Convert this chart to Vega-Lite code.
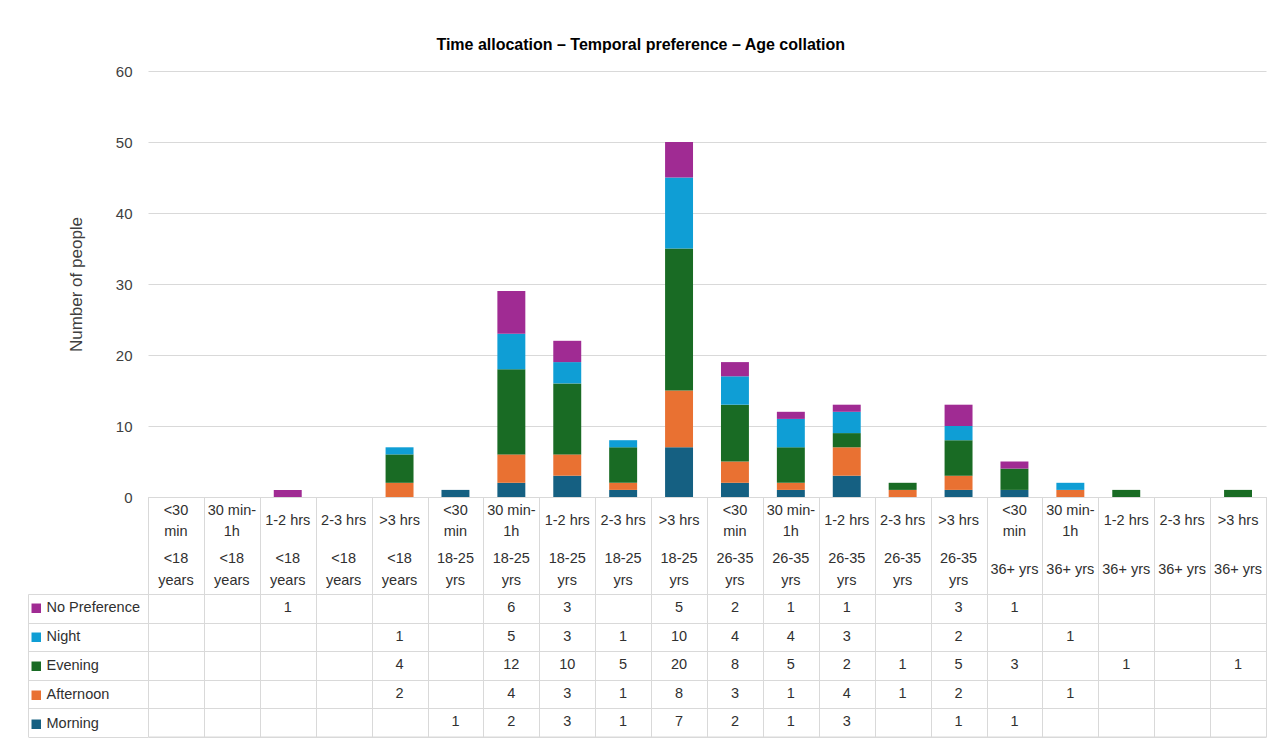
{
  "$schema": "https://vega.github.io/schema/vega-lite/v6.json",
  "padding": {"left": 27, "top": 37, "right": 19, "bottom": 12},
  "background": "white",
  "bounds": "flush",
  "spacing": 0,
  "config": {
    "font": "Liberation Sans",
    "view": {"stroke": "#d9d9d9"},
    "axis": {"gridColor": "#d9d9d9", "gridWidth": 1}
  },
  "title": {"text": "Time allocation – Temporal preference – Age collation", "fontSize": 16, "fontWeight": "bold", "color": "#000000", "anchor": "middle", "offset": 11, "dx": -6},
  "datasets": {
    "vals": [
      {"c": "1-2 hrs, <18 years", "s": "No Preference", "v": 1},
      {"c": ">3 hrs, <18 years", "s": "Afternoon", "v": 2},
      {"c": ">3 hrs, <18 years", "s": "Evening", "v": 4},
      {"c": ">3 hrs, <18 years", "s": "Night", "v": 1},
      {"c": "<30 min, 18-25 yrs", "s": "Morning", "v": 1},
      {"c": "30 min-1h, 18-25 yrs", "s": "Morning", "v": 2},
      {"c": "30 min-1h, 18-25 yrs", "s": "Afternoon", "v": 4},
      {"c": "30 min-1h, 18-25 yrs", "s": "Evening", "v": 12},
      {"c": "30 min-1h, 18-25 yrs", "s": "Night", "v": 5},
      {"c": "30 min-1h, 18-25 yrs", "s": "No Preference", "v": 6},
      {"c": "1-2 hrs, 18-25 yrs", "s": "Morning", "v": 3},
      {"c": "1-2 hrs, 18-25 yrs", "s": "Afternoon", "v": 3},
      {"c": "1-2 hrs, 18-25 yrs", "s": "Evening", "v": 10},
      {"c": "1-2 hrs, 18-25 yrs", "s": "Night", "v": 3},
      {"c": "1-2 hrs, 18-25 yrs", "s": "No Preference", "v": 3},
      {"c": "2-3 hrs, 18-25 yrs", "s": "Morning", "v": 1},
      {"c": "2-3 hrs, 18-25 yrs", "s": "Afternoon", "v": 1},
      {"c": "2-3 hrs, 18-25 yrs", "s": "Evening", "v": 5},
      {"c": "2-3 hrs, 18-25 yrs", "s": "Night", "v": 1},
      {"c": ">3 hrs, 18-25 yrs", "s": "Morning", "v": 7},
      {"c": ">3 hrs, 18-25 yrs", "s": "Afternoon", "v": 8},
      {"c": ">3 hrs, 18-25 yrs", "s": "Evening", "v": 20},
      {"c": ">3 hrs, 18-25 yrs", "s": "Night", "v": 10},
      {"c": ">3 hrs, 18-25 yrs", "s": "No Preference", "v": 5},
      {"c": "<30 min, 26-35 yrs", "s": "Morning", "v": 2},
      {"c": "<30 min, 26-35 yrs", "s": "Afternoon", "v": 3},
      {"c": "<30 min, 26-35 yrs", "s": "Evening", "v": 8},
      {"c": "<30 min, 26-35 yrs", "s": "Night", "v": 4},
      {"c": "<30 min, 26-35 yrs", "s": "No Preference", "v": 2},
      {"c": "30 min-1h, 26-35 yrs", "s": "Morning", "v": 1},
      {"c": "30 min-1h, 26-35 yrs", "s": "Afternoon", "v": 1},
      {"c": "30 min-1h, 26-35 yrs", "s": "Evening", "v": 5},
      {"c": "30 min-1h, 26-35 yrs", "s": "Night", "v": 4},
      {"c": "30 min-1h, 26-35 yrs", "s": "No Preference", "v": 1},
      {"c": "1-2 hrs, 26-35 yrs", "s": "Morning", "v": 3},
      {"c": "1-2 hrs, 26-35 yrs", "s": "Afternoon", "v": 4},
      {"c": "1-2 hrs, 26-35 yrs", "s": "Evening", "v": 2},
      {"c": "1-2 hrs, 26-35 yrs", "s": "Night", "v": 3},
      {"c": "1-2 hrs, 26-35 yrs", "s": "No Preference", "v": 1},
      {"c": "2-3 hrs, 26-35 yrs", "s": "Afternoon", "v": 1},
      {"c": "2-3 hrs, 26-35 yrs", "s": "Evening", "v": 1},
      {"c": ">3 hrs, 26-35 yrs", "s": "Morning", "v": 1},
      {"c": ">3 hrs, 26-35 yrs", "s": "Afternoon", "v": 2},
      {"c": ">3 hrs, 26-35 yrs", "s": "Evening", "v": 5},
      {"c": ">3 hrs, 26-35 yrs", "s": "Night", "v": 2},
      {"c": ">3 hrs, 26-35 yrs", "s": "No Preference", "v": 3},
      {"c": "<30 min, 36+ yrs", "s": "Morning", "v": 1},
      {"c": "<30 min, 36+ yrs", "s": "Evening", "v": 3},
      {"c": "<30 min, 36+ yrs", "s": "No Preference", "v": 1},
      {"c": "30 min-1h, 36+ yrs", "s": "Afternoon", "v": 1},
      {"c": "30 min-1h, 36+ yrs", "s": "Night", "v": 1},
      {"c": "1-2 hrs, 36+ yrs", "s": "Evening", "v": 1},
      {"c": ">3 hrs, 36+ yrs", "s": "Evening", "v": 1}
    ],
    "cats": [
      {"c": "<30 min, <18 years", "t": "<30\nmin", "a": "<18\nyears"},
      {"c": "30 min-1h, <18 years", "t": "30 min-\n1h", "a": "<18\nyears"},
      {"c": "1-2 hrs, <18 years", "t": "1-2 hrs", "a": "<18\nyears"},
      {"c": "2-3 hrs, <18 years", "t": "2-3 hrs", "a": "<18\nyears"},
      {"c": ">3 hrs, <18 years", "t": ">3 hrs", "a": "<18\nyears"},
      {"c": "<30 min, 18-25 yrs", "t": "<30\nmin", "a": "18-25\nyrs"},
      {"c": "30 min-1h, 18-25 yrs", "t": "30 min-\n1h", "a": "18-25\nyrs"},
      {"c": "1-2 hrs, 18-25 yrs", "t": "1-2 hrs", "a": "18-25\nyrs"},
      {"c": "2-3 hrs, 18-25 yrs", "t": "2-3 hrs", "a": "18-25\nyrs"},
      {"c": ">3 hrs, 18-25 yrs", "t": ">3 hrs", "a": "18-25\nyrs"},
      {"c": "<30 min, 26-35 yrs", "t": "<30\nmin", "a": "26-35\nyrs"},
      {"c": "30 min-1h, 26-35 yrs", "t": "30 min-\n1h", "a": "26-35\nyrs"},
      {"c": "1-2 hrs, 26-35 yrs", "t": "1-2 hrs", "a": "26-35\nyrs"},
      {"c": "2-3 hrs, 26-35 yrs", "t": "2-3 hrs", "a": "26-35\nyrs"},
      {"c": ">3 hrs, 26-35 yrs", "t": ">3 hrs", "a": "26-35\nyrs"},
      {"c": "<30 min, 36+ yrs", "t": "<30\nmin", "a": "36+ yrs"},
      {"c": "30 min-1h, 36+ yrs", "t": "30 min-\n1h", "a": "36+ yrs"},
      {"c": "1-2 hrs, 36+ yrs", "t": "1-2 hrs", "a": "36+ yrs"},
      {"c": "2-3 hrs, 36+ yrs", "t": "2-3 hrs", "a": "36+ yrs"},
      {"c": ">3 hrs, 36+ yrs", "t": ">3 hrs", "a": "36+ yrs"}
    ]
  },
  "resolve": {"scale": {"x": "independent", "y": "independent"}, "legend": {"color": "independent"}},
  "vconcat": [
    {
      "width": 1118,
      "height": 426,
      "view": {"stroke": null},
      "data": {"name": "vals"},
      "transform": [{"stack": "v", "groupby": ["c"], "as": ["v0", "v1"]}],
      "mark": {"type": "bar"},
      "encoding": {
        "x": {"field": "c", "type": "nominal", "scale": {"type": "band", "domain": ["<30 min, <18 years", "30 min-1h, <18 years", "1-2 hrs, <18 years", "2-3 hrs, <18 years", ">3 hrs, <18 years", "<30 min, 18-25 yrs", "30 min-1h, 18-25 yrs", "1-2 hrs, 18-25 yrs", "2-3 hrs, 18-25 yrs", ">3 hrs, 18-25 yrs", "<30 min, 26-35 yrs", "30 min-1h, 26-35 yrs", "1-2 hrs, 26-35 yrs", "2-3 hrs, 26-35 yrs", ">3 hrs, 26-35 yrs", "<30 min, 36+ yrs", "30 min-1h, 36+ yrs", "1-2 hrs, 36+ yrs", "2-3 hrs, 36+ yrs", ">3 hrs, 36+ yrs"], "paddingInner": 0.5, "paddingOuter": 0.25}, "axis": null},
        "y": {"field": "v0", "type": "quantitative", "scale": {"domain": [0, 60]}, "axis": {"values": [0, 10, 20, 30, 40, 50, 60], "title": "Number of people", "grid": true, "domain": false, "ticks": false, "labelPadding": 16, "labelFontSize": 15, "labelColor": "#404040", "titleFontSize": 17, "titleFontWeight": "normal", "titleColor": "#404040", "titlePadding": 30}},
        "y2": {"field": "v1"},
        "color": {"field": "s", "type": "nominal", "scale": {"domain": ["Morning", "Afternoon", "Evening", "Night", "No Preference"], "range": ["#156082", "#E97132", "#196B24", "#0F9ED5", "#A02B93"]}, "legend": null}
      }
    },
    {
      "width": 1118,
      "height": 97,
      "data": {"name": "cats"},
      "transform": [{"fold": ["t", "a"], "as": ["row", "label"]}],
      "encoding": {
        "x": {"field": "c", "type": "nominal", "scale": {"type": "band", "domain": ["<30 min, <18 years", "30 min-1h, <18 years", "1-2 hrs, <18 years", "2-3 hrs, <18 years", ">3 hrs, <18 years", "<30 min, 18-25 yrs", "30 min-1h, 18-25 yrs", "1-2 hrs, 18-25 yrs", "2-3 hrs, 18-25 yrs", ">3 hrs, 18-25 yrs", "<30 min, 26-35 yrs", "30 min-1h, 26-35 yrs", "1-2 hrs, 26-35 yrs", "2-3 hrs, 26-35 yrs", ">3 hrs, 26-35 yrs", "<30 min, 36+ yrs", "30 min-1h, 36+ yrs", "1-2 hrs, 36+ yrs", "2-3 hrs, 36+ yrs", ">3 hrs, 36+ yrs"], "paddingInner": 0, "paddingOuter": 0}, "axis": {"orient": "bottom", "title": null, "labels": false, "ticks": false, "domain": false, "grid": true, "tickBand": "extent"}},
        "y": {"field": "row", "type": "nominal", "scale": {"type": "band", "domain": ["t", "a"], "paddingInner": 0, "paddingOuter": 0}, "axis": null},
        "text": {"field": "label", "type": "nominal"}
      },
      "layer": [
        {
          "transform": [{"filter": "indexof(datum.label, '\\n') < 0"}],
          "mark": {"type": "text", "fontSize": 14.5, "color": "#303030", "baseline": "middle", "align": "center"}
        },
        {
          "transform": [{"filter": "indexof(datum.label, '\\n') >= 0"}],
          "mark": {"type": "text", "lineBreak": "\n", "lineHeight": 21.5, "dy": -10.75, "fontSize": 14.5, "color": "#303030", "baseline": "middle", "align": "center"}
        }
      ]
    },
    {
      "width": 1118,
      "height": 142.5,
      "data": {"name": "vals"},
      "encoding": {
        "x": {"field": "c", "type": "nominal", "scale": {"type": "band", "domain": ["<30 min, <18 years", "30 min-1h, <18 years", "1-2 hrs, <18 years", "2-3 hrs, <18 years", ">3 hrs, <18 years", "<30 min, 18-25 yrs", "30 min-1h, 18-25 yrs", "1-2 hrs, 18-25 yrs", "2-3 hrs, 18-25 yrs", ">3 hrs, 18-25 yrs", "<30 min, 26-35 yrs", "30 min-1h, 26-35 yrs", "1-2 hrs, 26-35 yrs", "2-3 hrs, 26-35 yrs", ">3 hrs, 26-35 yrs", "<30 min, 36+ yrs", "30 min-1h, 36+ yrs", "1-2 hrs, 36+ yrs", "2-3 hrs, 36+ yrs", ">3 hrs, 36+ yrs"], "paddingInner": 0, "paddingOuter": 0}, "axis": {"orient": "bottom", "title": null, "labels": false, "ticks": false, "domain": false, "grid": true, "tickBand": "extent"}},
        "y": {"field": "s", "type": "nominal", "scale": {"type": "band", "domain": ["No Preference", "Night", "Evening", "Afternoon", "Morning"], "paddingInner": 0, "paddingOuter": 0}, "axis": {"title": null, "labels": false, "offset": 120, "tickSize": -120, "tickBand": "extent", "grid": true, "tickColor": "#d9d9d9", "domainColor": "#d9d9d9"}}
      },
      "layer": [
        {
          "mark": {"type": "text", "fontSize": 14.5, "color": "#303030", "baseline": "middle", "align": "center"},
          "encoding": {"text": {"field": "v", "type": "quantitative"}}
        },
        {
          "transform": [{"filter": "false"}],
          "mark": {"type": "square", "opacity": 1},
          "encoding": {
            "color": {"field": "s", "type": "nominal", "scale": {"domain": ["Morning", "Afternoon", "Evening", "Night", "No Preference"], "range": ["#156082", "#E97132", "#196B24", "#0F9ED5", "#A02B93"]}, "legend": {"orient": "none", "legendX": -119, "legendY": 7, "direction": "vertical", "title": null, "values": ["No Preference", "Night", "Evening", "Afternoon", "Morning"], "symbolType": "square", "symbolSize": 90, "symbolStrokeWidth": 0, "symbolOpacity": 1, "labelFontSize": 14.5, "labelColor": "#303030", "labelOffset": 3, "rowPadding": 14, "padding": 0}}
          }
        }
      ]
    }
  ]
}
